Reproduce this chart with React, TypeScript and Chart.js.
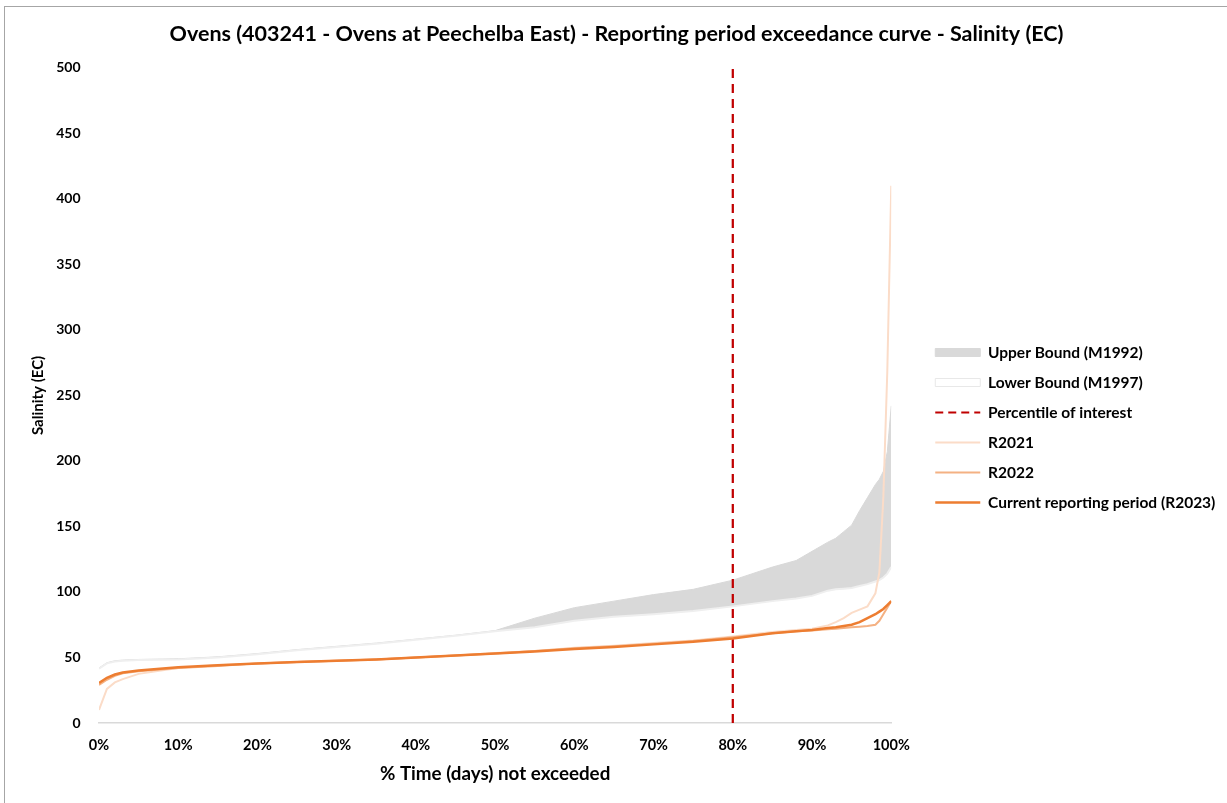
import React, { useEffect, useRef } from "react";
import { Chart, registerables } from "chart.js";

Chart.register(...registerables);

const TITLE = "Ovens (403241 - Ovens at Peechelba East) - Reporting period exceedance curve - Salinity (EC)";
const X_TITLE = "% Time (days) not exceeded";
const Y_TITLE = "Salinity (EC)";

const PCT = [0, 1, 2, 3, 5, 10, 15, 20, 25, 30, 35, 40, 45, 50, 55, 60, 65, 70, 75, 80, 85, 88, 90, 92, 93, 94, 95, 96, 97, 98, 98.5, 99, 99.5, 100];

const UPPER_M1992 = [42, 46, 47.5, 48, 48.5, 49, 50.5, 53, 56, 58.5, 61, 64, 67, 70.5, 80, 88, 93, 98, 102, 109, 119, 124, 131, 138, 141, 146, 151, 162, 172, 182, 186, 192, 207, 242];
const LOWER_M1997 = [41.5, 45.5, 47, 47.5, 48, 48.5, 50, 52.5, 55.5, 58, 60.5, 63.5, 66.5, 70, 73, 78, 81, 83, 85.5, 89, 93, 95, 97, 101, 102, 102.5, 103, 104.5, 106, 108, 109, 111, 114, 119];
const R2021 = [10, 26, 31, 33.5, 37.5, 42, 44, 45.5, 46.5, 47.5, 48.5, 50, 51.5, 53.5, 55, 57.5, 59, 61, 63, 66, 69.5, 71, 72, 74.5, 77, 80, 84, 86.5, 89, 99, 115, 172, 268, 410];
const R2022 = [29, 33, 36, 38, 39.5, 42, 43.5, 45.5, 46.5, 47.5, 48.5, 50, 51.5, 53, 55, 57, 58.5, 60.5, 62.5, 65.5, 68.5, 70, 70.5, 71.5, 72, 72.5, 73, 73.5, 74, 75, 78, 83, 88, 93];
const R2023 = [30.5, 34.5, 37, 38.5, 40, 42.5, 44, 45.5, 46.5, 47.5, 48.5, 50, 51.5, 53, 54.5, 56.5, 58, 60, 62, 64.5, 68.5, 70, 71, 72.5, 73, 74, 75, 77, 80, 83, 85, 87, 90, 93];

const PERCENTILE = 80;
const Y_RANGE = [0, 500];

const X_TICKS = [0, 10, 20, 30, 40, 50, 60, 70, 80, 90, 100];

const FONT = "Lato, 'Open Sans', sans-serif";

function pts(ys: number[]) {
  return PCT.map((x, i) => ({ x, y: ys[i] }));
}

export default function App() {
  const ref = useRef<HTMLCanvasElement | null>(null);

  useEffect(() => {
    if (!ref.current) return;
    const chart = new Chart(ref.current, {
      type: "line",
      data: {
        datasets: [
          {
            label: "Upper Bound (M1992)",
            data: pts(UPPER_M1992),
            borderColor: "#d9d9d9",
            backgroundColor: "#d9d9d9",
            borderWidth: 1,
            fill: "+1",
            pointRadius: 0,
            order: 6,
          },
          {
            label: "Lower Bound (M1997)",
            data: pts(LOWER_M1997),
            borderColor: "#efefef",
            backgroundColor: "#ffffff",
            borderWidth: 2,
            fill: false,
            pointRadius: 0,
            order: 5,
          },
          {
            label: "Percentile of interest",
            data: [
              { x: PERCENTILE, y: Y_RANGE[0] },
              { x: PERCENTILE, y: Y_RANGE[1] },
            ],
            borderColor: "#c00000",
            backgroundColor: "#c00000",
            borderWidth: 2.25,
            borderDash: [9, 6],
            fill: false,
            pointRadius: 0,
            order: 4,
          },
          {
            label: "R2021",
            data: pts(R2021),
            borderColor: "#fbdcc8",
            backgroundColor: "#fbdcc8",
            borderWidth: 2,
            fill: false,
            pointRadius: 0,
            order: 3,
          },
          {
            label: "R2022",
            data: pts(R2022),
            borderColor: "#f4b183",
            backgroundColor: "#f4b183",
            borderWidth: 2,
            fill: false,
            pointRadius: 0,
            order: 2,
          },
          {
            label: "Current reporting period (R2023)",
            data: pts(R2023),
            borderColor: "#ed7d31",
            backgroundColor: "#ed7d31",
            borderWidth: 2.5,
            fill: false,
            pointRadius: 0,
            order: 1,
          },
        ],
      },
      options: {
        animation: false,
        responsive: true,
        maintainAspectRatio: false,
        layout: { padding: { left: 3, right: 2, top: 0, bottom: 18 } },
        plugins: {
          tooltip: { enabled: false },
          title: {
            display: true,
            text: TITLE,
            color: "#000000",
            font: { family: FONT, size: 21.5, weight: "bold" },
            padding: { top: 14, bottom: 21 },
          },
          legend: {
            position: "right",
            title: {
              display: true,
              text: " ",
              font: { family: FONT, size: 12 },
              padding: 24.3,
            },
            labels: {
              usePointStyle: true,
              pointStyleWidth: 45,
              boxHeight: 8,
              padding: 14.5,
              color: "#000000",
              font: { family: FONT, size: 15.5, weight: "bold" },
              sort: (a: any, b: any) => a.datasetIndex - b.datasetIndex,
              generateLabels: (chart: any) =>
                chart.data.datasets.map((ds: any, i: number) => {
                  const isBox = i < 2;
                  return {
                    text: ds.label,
                    datasetIndex: i,
                    fillStyle: i === 0 ? "#d9d9d9" : "#ffffff",
                    strokeStyle: i === 0 ? "#d9d9d9" : i === 1 ? "#e8e8e8" : ds.borderColor,
                    lineWidth: isBox ? 1 : i === 5 ? 2.5 : 2,
                    lineDash: i === 2 ? [8, 5] : [],
                    pointStyle: isBox ? "rect" : "line",
                    fontColor: "#000000",
                    hidden: false,
                  };
                }),
            },
          },
        },
        scales: {
          x: {
            type: "linear",
            min: 0,
            max: 100,
            afterBuildTicks: (axis: any) => {
              axis.ticks = X_TICKS.map((v) => ({ value: v }));
            },
            afterFit: (scale: any) => {
              scale.height = 62;
            },
            ticks: {
              color: "#000000",
              font: { family: FONT, size: 14.5, weight: "bold" },
              callback: (v: any) => v + "%",
              padding: 14,
              maxRotation: 0,
            },
            grid: { display: false, drawTicks: false },
            border: { display: true, color: "#d9d9d9", width: 1.5 },
            title: {
              display: true,
              text: X_TITLE,
              color: "#000000",
              font: { family: FONT, size: 18.8, weight: "bold" },
              padding: { top: 0, bottom: 0 },
            },
          },
          y: {
            type: "linear",
            min: Y_RANGE[0],
            max: Y_RANGE[1],
            afterFit: (scale: any) => {
              scale.width = 91;
            },
            ticks: {
              stepSize: 50,
              color: "#000000",
              font: { family: FONT, size: 14, weight: "bold" },
              padding: 18.5,
            },
            grid: { display: false, drawTicks: false },
            border: { display: false },
            title: {
              display: true,
              text: Y_TITLE,
              color: "#000000",
              font: { family: FONT, size: 15, weight: "bold" },
              padding: { top: 21, bottom: 1 },
            },
          },
          gap: {
            type: "linear",
            axis: "y",
            position: "right",
            display: false,
            afterFit: (scale: any) => {
              scale.width = 29.5;
            },
          },
        },
      },
    });
    return () => chart.destroy();
  }, []);

  return (
    <div
      style={{
        position: "absolute",
        left: 4,
        top: 6,
        width: 1222,
        height: 796,
        borderLeft: "1px solid #a6a6a6",
        borderTop: "1px solid #a6a6a6",
        background: "#ffffff",
      }}
    >
      <canvas ref={ref} />
    </div>
  );
}
